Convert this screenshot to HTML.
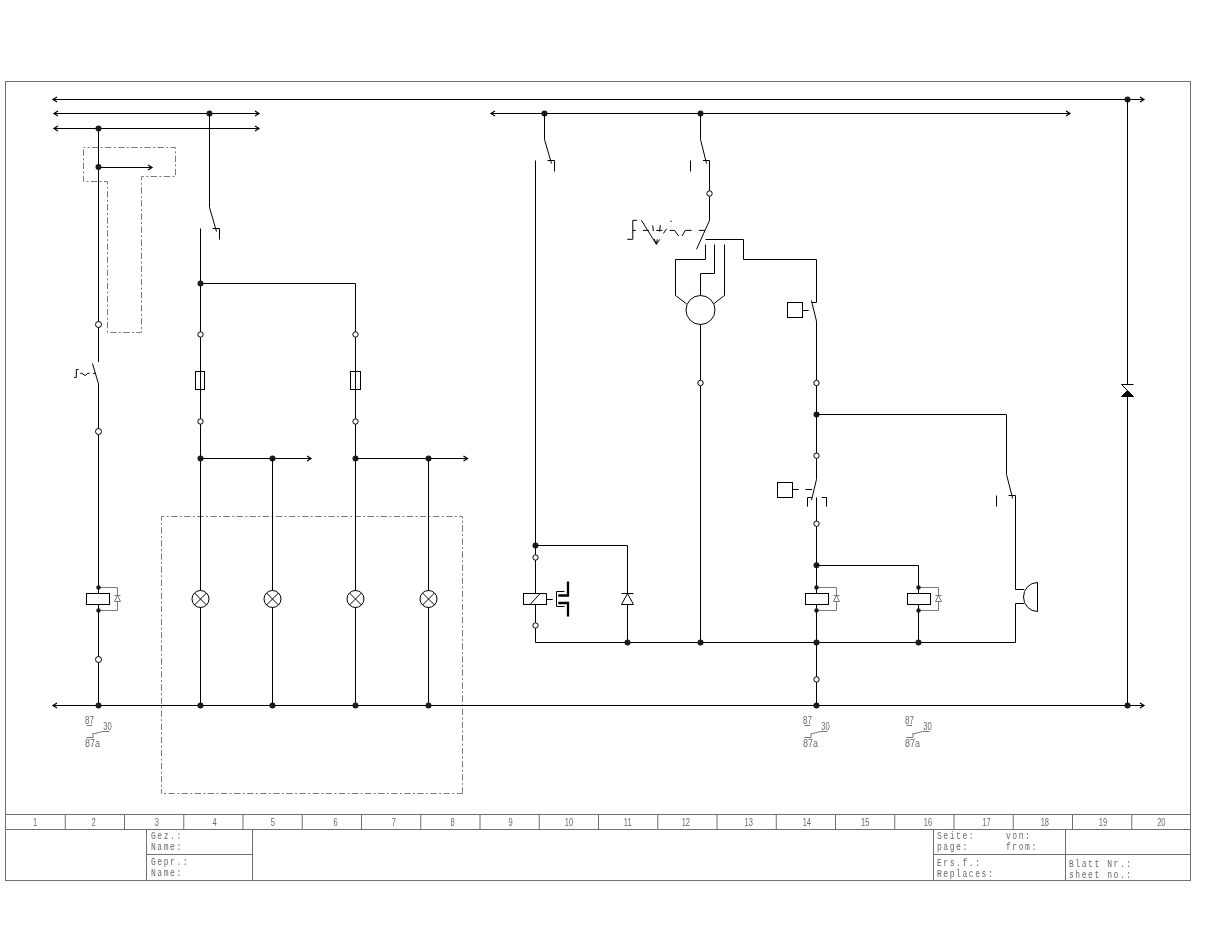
<!DOCTYPE html>
<html><head><meta charset="utf-8"><style>
html,body{margin:0;padding:0;background:#fff;}
svg{display:block;}


</style></head><body>
<svg width="1210" height="935" viewBox="0 0 1210 935" style="will-change:transform">
<rect width="1210" height="935" fill="#fff"/>
<rect x="5.5" y="81.5" width="1185" height="799" fill="none" stroke="#707070" stroke-width="1"/>
<line x1="5.5" y1="814.5" x2="1190.5" y2="814.5" stroke="#707070" stroke-width="1" />
<line x1="5.5" y1="829.5" x2="1190.5" y2="829.5" stroke="#707070" stroke-width="1" />
<line x1="65.25" y1="814.5" x2="65.25" y2="829.5" stroke="#707070" stroke-width="1" />
<line x1="124.5" y1="814.5" x2="124.5" y2="829.5" stroke="#707070" stroke-width="1" />
<line x1="183.75" y1="814.5" x2="183.75" y2="829.5" stroke="#707070" stroke-width="1" />
<line x1="243.0" y1="814.5" x2="243.0" y2="829.5" stroke="#707070" stroke-width="1" />
<line x1="302.25" y1="814.5" x2="302.25" y2="829.5" stroke="#707070" stroke-width="1" />
<line x1="361.5" y1="814.5" x2="361.5" y2="829.5" stroke="#707070" stroke-width="1" />
<line x1="420.75" y1="814.5" x2="420.75" y2="829.5" stroke="#707070" stroke-width="1" />
<line x1="480.0" y1="814.5" x2="480.0" y2="829.5" stroke="#707070" stroke-width="1" />
<line x1="539.25" y1="814.5" x2="539.25" y2="829.5" stroke="#707070" stroke-width="1" />
<line x1="598.5" y1="814.5" x2="598.5" y2="829.5" stroke="#707070" stroke-width="1" />
<line x1="657.75" y1="814.5" x2="657.75" y2="829.5" stroke="#707070" stroke-width="1" />
<line x1="717.0" y1="814.5" x2="717.0" y2="829.5" stroke="#707070" stroke-width="1" />
<line x1="776.25" y1="814.5" x2="776.25" y2="829.5" stroke="#707070" stroke-width="1" />
<line x1="835.5" y1="814.5" x2="835.5" y2="829.5" stroke="#707070" stroke-width="1" />
<line x1="894.75" y1="814.5" x2="894.75" y2="829.5" stroke="#707070" stroke-width="1" />
<line x1="954.0" y1="814.5" x2="954.0" y2="829.5" stroke="#707070" stroke-width="1" />
<line x1="1013.25" y1="814.5" x2="1013.25" y2="829.5" stroke="#707070" stroke-width="1" />
<line x1="1072.5" y1="814.5" x2="1072.5" y2="829.5" stroke="#707070" stroke-width="1" />
<line x1="1131.75" y1="814.5" x2="1131.75" y2="829.5" stroke="#707070" stroke-width="1" />
<text transform="translate(35.10,825.8) scale(0.75,1)" font-family="Liberation Sans, sans-serif" font-size="10" letter-spacing="0" text-anchor="middle" fill="#6a6a6a">1</text>
<text transform="translate(93.50,825.8) scale(0.75,1)" font-family="Liberation Sans, sans-serif" font-size="10" letter-spacing="0" text-anchor="middle" fill="#6a6a6a">2</text>
<text transform="translate(156.80,825.8) scale(0.75,1)" font-family="Liberation Sans, sans-serif" font-size="10" letter-spacing="0" text-anchor="middle" fill="#6a6a6a">3</text>
<text transform="translate(214.70,825.8) scale(0.75,1)" font-family="Liberation Sans, sans-serif" font-size="10" letter-spacing="0" text-anchor="middle" fill="#6a6a6a">4</text>
<text transform="translate(272.90,825.8) scale(0.75,1)" font-family="Liberation Sans, sans-serif" font-size="10" letter-spacing="0" text-anchor="middle" fill="#6a6a6a">5</text>
<text transform="translate(335.60,825.8) scale(0.75,1)" font-family="Liberation Sans, sans-serif" font-size="10" letter-spacing="0" text-anchor="middle" fill="#6a6a6a">6</text>
<text transform="translate(393.80,825.8) scale(0.75,1)" font-family="Liberation Sans, sans-serif" font-size="10" letter-spacing="0" text-anchor="middle" fill="#6a6a6a">7</text>
<text transform="translate(452.50,825.8) scale(0.75,1)" font-family="Liberation Sans, sans-serif" font-size="10" letter-spacing="0" text-anchor="middle" fill="#6a6a6a">8</text>
<text transform="translate(510.70,825.8) scale(0.75,1)" font-family="Liberation Sans, sans-serif" font-size="10" letter-spacing="0" text-anchor="middle" fill="#6a6a6a">9</text>
<text transform="translate(568.90,825.8) scale(0.75,1)" font-family="Liberation Sans, sans-serif" font-size="10" letter-spacing="0" text-anchor="middle" fill="#6a6a6a">10</text>
<text transform="translate(627.70,825.8) scale(0.75,1)" font-family="Liberation Sans, sans-serif" font-size="10" letter-spacing="0" text-anchor="middle" fill="#6a6a6a">11</text>
<text transform="translate(685.80,825.8) scale(0.75,1)" font-family="Liberation Sans, sans-serif" font-size="10" letter-spacing="0" text-anchor="middle" fill="#6a6a6a">12</text>
<text transform="translate(748.70,825.8) scale(0.75,1)" font-family="Liberation Sans, sans-serif" font-size="10" letter-spacing="0" text-anchor="middle" fill="#6a6a6a">13</text>
<text transform="translate(806.80,825.8) scale(0.75,1)" font-family="Liberation Sans, sans-serif" font-size="10" letter-spacing="0" text-anchor="middle" fill="#6a6a6a">14</text>
<text transform="translate(865.20,825.8) scale(0.75,1)" font-family="Liberation Sans, sans-serif" font-size="10" letter-spacing="0" text-anchor="middle" fill="#6a6a6a">15</text>
<text transform="translate(928.00,825.8) scale(0.75,1)" font-family="Liberation Sans, sans-serif" font-size="10" letter-spacing="0" text-anchor="middle" fill="#6a6a6a">16</text>
<text transform="translate(986.60,825.8) scale(0.75,1)" font-family="Liberation Sans, sans-serif" font-size="10" letter-spacing="0" text-anchor="middle" fill="#6a6a6a">17</text>
<text transform="translate(1044.80,825.8) scale(0.75,1)" font-family="Liberation Sans, sans-serif" font-size="10" letter-spacing="0" text-anchor="middle" fill="#6a6a6a">18</text>
<text transform="translate(1102.90,825.8) scale(0.75,1)" font-family="Liberation Sans, sans-serif" font-size="10" letter-spacing="0" text-anchor="middle" fill="#6a6a6a">19</text>
<text transform="translate(1161.30,825.8) scale(0.75,1)" font-family="Liberation Sans, sans-serif" font-size="10" letter-spacing="0" text-anchor="middle" fill="#6a6a6a">20</text>
<line x1="146.5" y1="829.5" x2="146.5" y2="880.5" stroke="#707070" stroke-width="1" />
<line x1="252.5" y1="829.5" x2="252.5" y2="880.5" stroke="#707070" stroke-width="1" />
<line x1="146.5" y1="854.5" x2="252.5" y2="854.5" stroke="#707070" stroke-width="1" />
<line x1="933.5" y1="829.5" x2="933.5" y2="880.5" stroke="#707070" stroke-width="1" />
<line x1="1065.5" y1="829.5" x2="1065.5" y2="880.5" stroke="#707070" stroke-width="1" />
<line x1="933.5" y1="854.5" x2="1190.5" y2="854.5" stroke="#707070" stroke-width="1" />
<text transform="translate(151.00,838.8) scale(0.78,1)" font-family="Liberation Mono, monospace" font-size="10.3" letter-spacing="2.0" text-anchor="start" fill="#6a6a6a">Gez.:</text>
<text transform="translate(151.00,849.9) scale(0.78,1)" font-family="Liberation Mono, monospace" font-size="10.3" letter-spacing="2.0" text-anchor="start" fill="#6a6a6a">Name:</text>
<text transform="translate(151.00,864.8) scale(0.78,1)" font-family="Liberation Mono, monospace" font-size="10.3" letter-spacing="2.0" text-anchor="start" fill="#6a6a6a">Gepr.:</text>
<text transform="translate(151.00,875.9) scale(0.78,1)" font-family="Liberation Mono, monospace" font-size="10.3" letter-spacing="2.0" text-anchor="start" fill="#6a6a6a">Name:</text>
<text transform="translate(937.00,838.7) scale(0.78,1)" font-family="Liberation Mono, monospace" font-size="10.3" letter-spacing="2.0" text-anchor="start" fill="#6a6a6a">Seite:</text>
<text transform="translate(1006.00,838.7) scale(0.78,1)" font-family="Liberation Mono, monospace" font-size="10.3" letter-spacing="2.0" text-anchor="start" fill="#6a6a6a">von:</text>
<text transform="translate(937.00,849.6) scale(0.78,1)" font-family="Liberation Mono, monospace" font-size="10.3" letter-spacing="2.0" text-anchor="start" fill="#6a6a6a">page:</text>
<text transform="translate(1006.00,849.6) scale(0.78,1)" font-family="Liberation Mono, monospace" font-size="10.3" letter-spacing="2.0" text-anchor="start" fill="#6a6a6a">from:</text>
<text transform="translate(937.00,865.8) scale(0.78,1)" font-family="Liberation Mono, monospace" font-size="10.3" letter-spacing="2.0" text-anchor="start" fill="#6a6a6a">Ers.f.:</text>
<text transform="translate(937.00,876.8) scale(0.78,1)" font-family="Liberation Mono, monospace" font-size="10.3" letter-spacing="2.0" text-anchor="start" fill="#6a6a6a">Replaces:</text>
<text transform="translate(1069.00,867) scale(0.78,1)" font-family="Liberation Mono, monospace" font-size="10.3" letter-spacing="2.0" text-anchor="start" fill="#6a6a6a">Blatt Nr.:</text>
<text transform="translate(1069.00,877.9) scale(0.78,1)" font-family="Liberation Mono, monospace" font-size="10.3" letter-spacing="2.0" text-anchor="start" fill="#6a6a6a">sheet no.:</text>
<path d="M83.5,147.5 H175.5 V176.5 H141.5 V332.5 H107.5 V181.5 H83.5 Z" stroke="#7a7a7a" stroke-width="1" fill="none" stroke-dasharray="6.3,2.4,2,2.4" stroke-dashoffset="4.6"/>
<path d="M161.5,516.5 H462.5" stroke="#7a7a7a" stroke-width="1" fill="none" stroke-dasharray="6.3,2.4,2,2.4" stroke-dashoffset="3.5"/>
<path d="M462.5,516.5 V793.5" stroke="#7a7a7a" stroke-width="1" fill="none" stroke-dasharray="6.3,2.4,2,2.4" stroke-dashoffset="4.3"/>
<path d="M462.5,793.5 H161.5" stroke="#7a7a7a" stroke-width="1" fill="none" stroke-dasharray="6.3,2.4,2,2.4" stroke-dashoffset="0.5"/>
<path d="M161.5,793.5 V516.5" stroke="#7a7a7a" stroke-width="1" fill="none" stroke-dasharray="6.3,2.4,2,2.4" stroke-dashoffset="2"/>
<line x1="53" y1="99.5" x2="1144" y2="99.5" stroke="#000" stroke-width="1" />
<path d="M57,97.0 L53,99.5 L57,102.0" stroke="#000" stroke-width="1.25" fill="none" />
<path d="M1140,97.0 L1144,99.5 L1140,102.0" stroke="#000" stroke-width="1.25" fill="none" />
<line x1="54" y1="113.5" x2="259" y2="113.5" stroke="#000" stroke-width="1" />
<path d="M58,111.0 L54,113.5 L58,116.0" stroke="#000" stroke-width="1.25" fill="none" />
<path d="M255,111.0 L259,113.5 L255,116.0" stroke="#000" stroke-width="1.25" fill="none" />
<line x1="54" y1="128.5" x2="259" y2="128.5" stroke="#000" stroke-width="1" />
<path d="M58,126.0 L54,128.5 L58,131.0" stroke="#000" stroke-width="1.25" fill="none" />
<path d="M255,126.0 L259,128.5 L255,131.0" stroke="#000" stroke-width="1.25" fill="none" />
<line x1="491" y1="113.5" x2="1070" y2="113.5" stroke="#000" stroke-width="1" />
<path d="M495,111.0 L491,113.5 L495,116.0" stroke="#000" stroke-width="1.25" fill="none" />
<path d="M1066,111.0 L1070,113.5 L1066,116.0" stroke="#000" stroke-width="1.25" fill="none" />
<line x1="53" y1="705.5" x2="1144" y2="705.5" stroke="#000" stroke-width="1" />
<path d="M57,703.0 L53,705.5 L57,708.0" stroke="#000" stroke-width="1.25" fill="none" />
<path d="M1140,703.0 L1144,705.5 L1140,708.0" stroke="#000" stroke-width="1.25" fill="none" />
<line x1="535.5" y1="642.5" x2="1015.5" y2="642.5" stroke="#000" stroke-width="1" />
<line x1="98.5" y1="128.5" x2="98.5" y2="362" stroke="#000" stroke-width="1" />
<path d="M92.5,363.5 L98.5,384 V705.5" stroke="#000" stroke-width="1" fill="none" />
<line x1="98.5" y1="167.5" x2="151" y2="167.5" stroke="#000" stroke-width="1" />
<path d="M148,165.0 L152,167.5 L148,170.0" stroke="#000" stroke-width="1.25" fill="none" />
<circle cx="98.5" cy="128.5" r="3" fill="#1c1c1c"/>
<circle cx="98.5" cy="167" r="3" fill="#1c1c1c"/>
<circle cx="98.5" cy="324.5" r="3" fill="#fff" stroke="#000" stroke-width="1"/>
<circle cx="98.5" cy="431.5" r="3" fill="#fff" stroke="#000" stroke-width="1"/>
<path d="M78.5,369.5 H76.3 V377.4 H74.2" stroke="#000" stroke-width="1" fill="none" />
<path d="M80.2,373.3 H81.8 L85.3,375.5 L87.8,373.3 H89.6" stroke="#000" stroke-width="1" fill="none" />
<path d="M93.2,373.4 H95.1" stroke="#000" stroke-width="1" fill="none" />
<rect x="86.5" y="593.5" width="23" height="11" fill="#fff" stroke="#000" stroke-width="1"/>
<path d="M98.5,587.5 H117.5 V610.5 H98.5" stroke="#7a7a7a" stroke-width="1" fill="none" />
<path d="M117.5,595.5 L114.5,601.5 H120.5 Z" fill="#fff" stroke="#7a7a7a" stroke-width="1"/>
<path d="M114.5,595.5 H120.5" stroke="#7a7a7a" stroke-width="1" fill="none" />
<circle cx="98.5" cy="587.5" r="2.2" fill="#1c1c1c"/>
<circle cx="98.5" cy="610.5" r="2.2" fill="#1c1c1c"/>
<circle cx="98.5" cy="659.5" r="3" fill="#fff" stroke="#000" stroke-width="1"/>
<circle cx="98.5" cy="705.5" r="3" fill="#1c1c1c"/>
<text x="85.0" y="723.5" font-family="Liberation Sans, sans-serif" font-size="10" fill="#6a6a6a" textLength="9" lengthAdjust="spacingAndGlyphs">87</text>
<text x="103.2" y="729.6" font-family="Liberation Sans, sans-serif" font-size="10" fill="#6a6a6a" textLength="8.5" lengthAdjust="spacingAndGlyphs">30</text>
<text x="85.0" y="746.8" font-family="Liberation Sans, sans-serif" font-size="10" fill="#6a6a6a" textLength="15" lengthAdjust="spacingAndGlyphs">87a</text>
<path d="M86.5,725.5 H92.0" stroke="#6a6a6a" stroke-width="0.9" fill="none" />
<path d="M86.5,737.5 H93.0 V733 M93.0,734 L102.5,731.5 H109.5" stroke="#6a6a6a" stroke-width="0.9" fill="none" />
<circle cx="209.5" cy="113.5" r="3" fill="#1c1c1c"/>
<path d="M209.5,113.5 V207.5 L216.5,231.5" stroke="#000" stroke-width="1" fill="none" />
<path d="M212.5,228.5 H219.5 V239.5" stroke="#000" stroke-width="1" fill="none" />
<line x1="200.5" y1="228.5" x2="200.5" y2="705.5" stroke="#000" stroke-width="1" />
<line x1="200.5" y1="283.5" x2="355.5" y2="283.5" stroke="#000" stroke-width="1" />
<line x1="355.5" y1="283.5" x2="355.5" y2="705.5" stroke="#000" stroke-width="1" />
<circle cx="200.5" cy="283.5" r="3" fill="#1c1c1c"/>
<circle cx="200.5" cy="334.5" r="2.7" fill="#fff" stroke="#000" stroke-width="1"/>
<circle cx="200.5" cy="421.5" r="2.7" fill="#fff" stroke="#000" stroke-width="1"/>
<rect x="195.5" y="371.5" width="9" height="18" fill="none" stroke="#000" stroke-width="1"/>
<circle cx="200.5" cy="458.5" r="3" fill="#1c1c1c"/>
<circle cx="355.5" cy="334.5" r="2.7" fill="#fff" stroke="#000" stroke-width="1"/>
<circle cx="355.5" cy="421.5" r="2.7" fill="#fff" stroke="#000" stroke-width="1"/>
<rect x="350.5" y="371.5" width="10" height="18" fill="none" stroke="#000" stroke-width="1"/>
<circle cx="355.5" cy="458.5" r="3" fill="#1c1c1c"/>
<line x1="200.5" y1="458.5" x2="310" y2="458.5" stroke="#000" stroke-width="1" />
<path d="M307,456.0 L311,458.5 L307,461.0" stroke="#000" stroke-width="1.25" fill="none" />
<circle cx="272.5" cy="458.5" r="3" fill="#1c1c1c"/>
<line x1="355.5" y1="458.5" x2="466.5" y2="458.5" stroke="#000" stroke-width="1" />
<path d="M463.5,456.0 L467.5,458.5 L463.5,461.0" stroke="#000" stroke-width="1.25" fill="none" />
<circle cx="428.5" cy="458.5" r="3" fill="#1c1c1c"/>
<line x1="272.5" y1="458.5" x2="272.5" y2="705.5" stroke="#000" stroke-width="1" />
<line x1="428.5" y1="458.5" x2="428.5" y2="705.5" stroke="#000" stroke-width="1" />
<circle cx="200.5" cy="599" r="8.5" fill="#fff" stroke="#000" stroke-width="1"/>
<path d="M194.5,593 L206.5,605 M206.5,593 L194.5,605" stroke="#000" stroke-width="1" fill="none" />
<circle cx="200.5" cy="705.5" r="3" fill="#1c1c1c"/>
<circle cx="272.5" cy="599" r="8.5" fill="#fff" stroke="#000" stroke-width="1"/>
<path d="M266.5,593 L278.5,605 M278.5,593 L266.5,605" stroke="#000" stroke-width="1" fill="none" />
<circle cx="272.5" cy="705.5" r="3" fill="#1c1c1c"/>
<circle cx="355.5" cy="599" r="8.5" fill="#fff" stroke="#000" stroke-width="1"/>
<path d="M349.5,593 L361.5,605 M361.5,593 L349.5,605" stroke="#000" stroke-width="1" fill="none" />
<circle cx="355.5" cy="705.5" r="3" fill="#1c1c1c"/>
<circle cx="428.5" cy="599" r="8.5" fill="#fff" stroke="#000" stroke-width="1"/>
<path d="M422.5,593 L434.5,605 M434.5,593 L422.5,605" stroke="#000" stroke-width="1" fill="none" />
<circle cx="428.5" cy="705.5" r="3" fill="#1c1c1c"/>
<circle cx="544.5" cy="113.5" r="3" fill="#1c1c1c"/>
<path d="M544.5,113.5 V139.5 L551.5,163.5" stroke="#000" stroke-width="1" fill="none" />
<path d="M547.5,160.5 H554.5 V171.5" stroke="#000" stroke-width="1" fill="none" />
<line x1="535.5" y1="160.5" x2="535.5" y2="642.5" stroke="#000" stroke-width="1" />
<circle cx="535.5" cy="545.5" r="3" fill="#1c1c1c"/>
<path d="M535.5,545.5 H627.5 V642.5" stroke="#000" stroke-width="1" fill="none" />
<circle cx="535.5" cy="557.5" r="2.7" fill="#fff" stroke="#000" stroke-width="1"/>
<circle cx="535.5" cy="625.5" r="2.7" fill="#fff" stroke="#000" stroke-width="1"/>
<rect x="523.5" y="593.5" width="23" height="11" fill="#fff" stroke="#000" stroke-width="1"/>
<path d="M530,604.5 L540.2,593.5" stroke="#000" stroke-width="1" fill="none" />
<path d="M546.5,599.5 H552.7" stroke="#000" stroke-width="1" fill="none" />
<path d="M564.5,591.5 H556.5 V606.5 H564.5" stroke="#000" stroke-width="1" fill="none" />
<path d="M558.3,595.5 H568 V581.5 M558.3,603 H568 V616.5" stroke="#000" stroke-width="2.3" fill="none" />
<path d="M621.5,604.5 L627.5,593.5 L633.5,604.5 Z" fill="#fff" stroke="#000" stroke-width="1"/>
<path d="M621.5,593.5 H633.5" stroke="#000" stroke-width="1" fill="none" />
<circle cx="627.5" cy="642.5" r="3" fill="#1c1c1c"/>
<circle cx="700.5" cy="113.5" r="3" fill="#1c1c1c"/>
<path d="M700.5,113.5 V139.5 L706.5,163.5" stroke="#000" stroke-width="1" fill="none" />
<path d="M703.0,160.5 H709.5" stroke="#000" stroke-width="1" fill="none" />
<line x1="709.5" y1="160.5" x2="709.5" y2="220.5" stroke="#000" stroke-width="1" />
<line x1="690.5" y1="160.5" x2="690.5" y2="171.5" stroke="#000" stroke-width="1" />
<circle cx="709.5" cy="193.5" r="2.7" fill="#fff" stroke="#000" stroke-width="1"/>
<path d="M709.5,220.5 L696.5,249.3" stroke="#000" stroke-width="1" fill="none" />
<path d="M637,220.3 H632.8 V239.3 H627.3 M632.8,230.4 H635.7" stroke="#000" stroke-width="1" fill="none" />
<path d="M641.4,220.3 L656.4,244.3" stroke="#000" stroke-width="1" fill="none" />
<path d="M654.2,239 L656.4,244.3 L659.7,239.4 M657.2,239.3 L656.4,244.3" stroke="#000" stroke-width="1" fill="none" />
<path d="M643,230.4 H648.8" stroke="#000" stroke-width="1" fill="none" />
<path d="M652.7,225.5 L653.4,231" stroke="#000" stroke-width="1" fill="none" />
<path d="M656.2,230.4 H662.4 M660.4,225.2 L659.5,231.6" stroke="#000" stroke-width="1" fill="none" />
<path d="M663.4,233.5 L666.7,228.6" stroke="#000" stroke-width="1" fill="none" />
<path d="M670.8,220.7 L671.4,222" stroke="#000" stroke-width="1" fill="none" />
<path d="M669.6,230.4 H674.5 L678.7,236 M682,236 L685.3,230.4 H691.5" stroke="#000" stroke-width="1" fill="none" />
<path d="M698.9,230.4 H705.1" stroke="#000" stroke-width="1" fill="none" />
<path d="M705.5,239.5 H743.5 V259.5 H816.5 V302.5 H811.9" stroke="#000" stroke-width="1" fill="none" />
<path d="M705.5,244.5 V259.5 H675.5 V295.5 L686.5,303.8" stroke="#000" stroke-width="1" fill="none" />
<path d="M714.5,244.5 V273.5 H700.5 V295.5" stroke="#000" stroke-width="1" fill="none" />
<path d="M724.5,244.5 V295.5 L713.7,303.8" stroke="#000" stroke-width="1" fill="none" />
<circle cx="700.5" cy="310" r="14.5" fill="#fff" stroke="#000" stroke-width="1"/>
<line x1="700.5" y1="324.5" x2="700.5" y2="642.5" stroke="#000" stroke-width="1" />
<circle cx="700.5" cy="383" r="2.7" fill="#fff" stroke="#000" stroke-width="1"/>
<circle cx="700.5" cy="642.5" r="3" fill="#1c1c1c"/>
<path d="M811.4,300.5 L816.5,321.2 V479.3 L811.5,500.2" stroke="#000" stroke-width="1" fill="none" />
<rect x="787.5" y="302.5" width="15" height="15" fill="none" stroke="#000" stroke-width="1"/>
<path d="M802.5,310.5 H808.7" stroke="#000" stroke-width="1" fill="none" />
<circle cx="816.5" cy="383" r="2.7" fill="#fff" stroke="#000" stroke-width="1"/>
<circle cx="816.5" cy="414.5" r="3" fill="#1c1c1c"/>
<circle cx="816.5" cy="455.7" r="2.7" fill="#fff" stroke="#000" stroke-width="1"/>
<line x1="816.5" y1="414.5" x2="1006.5" y2="414.5" stroke="#000" stroke-width="1" />
<path d="M807.5,506.6 V497.5 H811.9 M821.8,497.5 H826.5 V506.6" stroke="#000" stroke-width="1" fill="none" />
<line x1="816.5" y1="497.5" x2="816.5" y2="705.5" stroke="#000" stroke-width="1" />
<rect x="777.5" y="482.5" width="15" height="15" fill="none" stroke="#000" stroke-width="1"/>
<path d="M792.5,489.5 H798.7 M805.5,489.5 H811.9" stroke="#000" stroke-width="1" fill="none" />
<circle cx="816.5" cy="523.7" r="2.7" fill="#fff" stroke="#000" stroke-width="1"/>
<circle cx="816.5" cy="565.3" r="3" fill="#1c1c1c"/>
<path d="M816.5,565.5 H918.5 V642.5" stroke="#000" stroke-width="1" fill="none" />
<rect x="805.5" y="593.5" width="23" height="11" fill="#fff" stroke="#000" stroke-width="1"/>
<path d="M816.5,587.5 H836.5 V610.5 H816.5" stroke="#7a7a7a" stroke-width="1" fill="none" />
<path d="M836.5,595.5 L833.5,601.5 H839.5 Z" fill="#fff" stroke="#7a7a7a" stroke-width="1"/>
<path d="M833.5,595.5 H839.5" stroke="#7a7a7a" stroke-width="1" fill="none" />
<circle cx="816.5" cy="587.5" r="2.2" fill="#1c1c1c"/>
<circle cx="816.5" cy="610.5" r="2.2" fill="#1c1c1c"/>
<rect x="907.5" y="593.5" width="23" height="11" fill="#fff" stroke="#000" stroke-width="1"/>
<path d="M918.5,587.5 H938.5 V610.5 H918.5" stroke="#7a7a7a" stroke-width="1" fill="none" />
<path d="M938.5,595.5 L935.5,601.5 H941.5 Z" fill="#fff" stroke="#7a7a7a" stroke-width="1"/>
<path d="M935.5,595.5 H941.5" stroke="#7a7a7a" stroke-width="1" fill="none" />
<circle cx="918.5" cy="587.5" r="2.2" fill="#1c1c1c"/>
<circle cx="918.5" cy="610.5" r="2.2" fill="#1c1c1c"/>
<circle cx="816.5" cy="642.5" r="3" fill="#1c1c1c"/>
<circle cx="918.5" cy="642.5" r="3" fill="#1c1c1c"/>
<circle cx="816.5" cy="679.4" r="2.7" fill="#fff" stroke="#000" stroke-width="1"/>
<circle cx="816.5" cy="705.5" r="3" fill="#1c1c1c"/>
<text x="803.0" y="723.5" font-family="Liberation Sans, sans-serif" font-size="10" fill="#6a6a6a" textLength="9" lengthAdjust="spacingAndGlyphs">87</text>
<text x="821.2" y="729.6" font-family="Liberation Sans, sans-serif" font-size="10" fill="#6a6a6a" textLength="8.5" lengthAdjust="spacingAndGlyphs">30</text>
<text x="803.0" y="746.8" font-family="Liberation Sans, sans-serif" font-size="10" fill="#6a6a6a" textLength="15" lengthAdjust="spacingAndGlyphs">87a</text>
<path d="M804.5,725.5 H810.0" stroke="#6a6a6a" stroke-width="0.9" fill="none" />
<path d="M804.5,737.5 H811.0 V733 M811.0,734 L820.5,731.5 H827.5" stroke="#6a6a6a" stroke-width="0.9" fill="none" />
<text x="905.0" y="723.5" font-family="Liberation Sans, sans-serif" font-size="10" fill="#6a6a6a" textLength="9" lengthAdjust="spacingAndGlyphs">87</text>
<text x="923.2" y="729.6" font-family="Liberation Sans, sans-serif" font-size="10" fill="#6a6a6a" textLength="8.5" lengthAdjust="spacingAndGlyphs">30</text>
<text x="905.0" y="746.8" font-family="Liberation Sans, sans-serif" font-size="10" fill="#6a6a6a" textLength="15" lengthAdjust="spacingAndGlyphs">87a</text>
<path d="M906.5,725.5 H912.0" stroke="#6a6a6a" stroke-width="0.9" fill="none" />
<path d="M906.5,737.5 H913.0 V733 M913.0,734 L922.5,731.5 H929.5" stroke="#6a6a6a" stroke-width="0.9" fill="none" />
<path d="M1006.5,414.5 V474.5 L1012.7,498.5" stroke="#000" stroke-width="1" fill="none" />
<path d="M1008.5,495.5 H1015.5" stroke="#000" stroke-width="1" fill="none" />
<line x1="996.5" y1="495.5" x2="996.5" y2="506.5" stroke="#000" stroke-width="1" />
<path d="M1015.5,495.5 V589.5 H1024.2 M1024.2,603.5 H1015.5 V642.5" stroke="#000" stroke-width="1" fill="none" />
<path d="M1037.5,582.5 A14,14.5 0 0 0 1037.5,611.5 Z" stroke="#000" stroke-width="1" fill="none" />
<circle cx="1127.5" cy="99.5" r="3" fill="#1c1c1c"/>
<line x1="1127.5" y1="99.5" x2="1127.5" y2="384.5" stroke="#000" stroke-width="1" />
<path d="M1121.5,384.5 H1133.5 M1121.5,384.5 L1127.5,390.5" stroke="#000" stroke-width="1" fill="none" />
<path d="M1127.5,390.5 L1121.5,396.5 H1133.5 Z" fill="#000" stroke="#000" stroke-width="1"/>
<line x1="1127.5" y1="396.5" x2="1127.5" y2="705.5" stroke="#000" stroke-width="1" />
<circle cx="1127.5" cy="705.5" r="3" fill="#1c1c1c"/>
</svg>
</body></html>
